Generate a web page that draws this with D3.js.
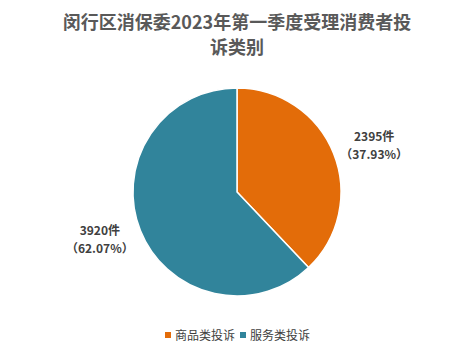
<!DOCTYPE html>
<html>
<head>
<meta charset="utf-8">
<script src="https://cdn.jsdelivr.net/npm/d3@7"></script>
<style>
  body { margin: 0; background: #fff; }
  text { font-family: "Noto Sans CJK SC", "Noto Sans", sans-serif; }
</style>
</head>
<body>
<div id="chart"></div>
<script>
const categories = ["商品类投诉", "服务类投诉"];
const counts = [2395, 3920];
const percents = ["37.93%", "62.07%"];
const colors = ["#E36C09", "#31849B"];
const titleLines = ["闵行区消保委2023年第一季度受理消费者投", "诉类别"];

const width = 474, height = 356;
const cx = 237, cy = 192, radius = 104;

const svg = d3.select("#chart").append("svg")
    .attr("width", width)
    .attr("height", height);

svg.selectAll("text.title")
    .data(titleLines)
    .enter()
    .append("text")
    .attr("class", "title")
    .attr("x", width / 2)
    .attr("y", (d, i) => 29 + i * 25)
    .attr("text-anchor", "middle")
    .style("font-size", "18px")
    .style("font-weight", "bold")
    .style("fill", "#595959")
    .text(d => d);

const data = categories.map((c, i) => ({ name: c, value: counts[i], pct: percents[i], color: colors[i] }));

const pie = d3.pie().sort(null).value(d => d.value);
const arc = d3.arc().innerRadius(0).outerRadius(radius);

const g = svg.append("g").attr("transform", `translate(${cx}, ${cy})`);

g.selectAll("path")
    .data(pie(data))
    .enter()
    .append("path")
    .attr("d", arc)
    .attr("fill", d => d.data.color)
    .attr("stroke", "#fff")
    .attr("stroke-width", 1.5);

// data labels outside the pie, placed on a slightly flattened ring
const labelPos = d => {
    const a = (d.startAngle + d.endAngle) / 2;
    return [Math.sin(a) * radius * 1.42, -Math.cos(a) * radius * 1.22];
};

const labels = g.selectAll("g.label")
    .data(pie(data))
    .enter()
    .append("g")
    .attr("class", "label")
    .attr("transform", d => `translate(${labelPos(d)})`);

labels.append("text")
    .attr("text-anchor", "middle")
    .attr("y", -4)
    .style("font-size", "12px")
    .style("font-weight", "bold")
    .style("fill", "#404040")
    .text(d => d.data.value + "件");

labels.append("text")
    .attr("text-anchor", "middle")
    .attr("y", 14)
    .style("font-size", "12px")
    .style("font-weight", "bold")
    .style("fill", "#404040")
    .text(d => "（" + d.data.pct + "）");

// legend
const legend = svg.append("g").attr("transform", "translate(165, 335)");
const items = legend.selectAll("g")
    .data(data)
    .enter()
    .append("g")
    .attr("transform", (d, i) => `translate(${i * 75}, 0)`);

items.append("rect")
    .attr("x", 0)
    .attr("y", -3)
    .attr("width", 6)
    .attr("height", 6)
    .attr("fill", d => d.color);

items.append("text")
    .attr("x", 10)
    .attr("y", 5)
    .style("font-size", "12px")
    .style("fill", "#404040")
    .text(d => d.name);
</script>
</body>
</html>
